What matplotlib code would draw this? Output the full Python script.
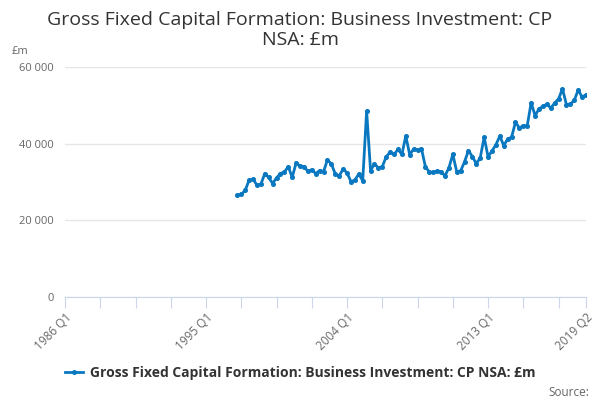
import matplotlib
matplotlib.use("Agg")
import matplotlib.pyplot as plt
from matplotlib.ticker import FuncFormatter

# --- Du lieu (doc tu hinh) ---
TITLE = "Gross Fixed Capital Formation: Business Investment: CP\nNSA: £m"
SERIES_NAME = "Gross Fixed Capital Formation: Business Investment: CP NSA: £m"

# nhan truc x: cac quy tu 1986 Q1 den 2019 Q2
quarters = [f"{y} Q{q}" for y in range(1986, 2020) for q in range(1, 5)]
quarters = quarters[:quarters.index("2019 Q2") + 1]

first_quarter = "1997 Q1"
values = [
    26500, 26800, 27800, 30500, 30700, 29200, 29400, 32200, 31200, 29600,
    31100, 32200, 32600, 34000, 31200, 35000, 34200, 34000, 32800, 33200,
    32200, 33000, 32700, 35800, 34700, 32100, 31600, 33400, 32400, 30100,
    30500, 32100, 30300, 48500, 33000, 34700, 33700, 34000, 36600, 37800,
    37200, 38500, 37200, 42000, 37100, 38600, 38400, 38700, 34000, 32600,
    32500, 32900, 32700, 31600, 33700, 37200, 32700, 32900, 35300, 38200,
    36600, 34800, 36300, 41700, 36600, 38100, 39700, 42000, 39500, 41200,
    41700, 45600, 44100, 44700, 44700, 50700, 47300, 49100, 49700, 50300,
    49300, 50600, 51700, 54300, 50200, 50300, 51300, 54000, 52200, 52700,
]

y_ticks = [0, 20000, 40000, 60000]
label_quarters = ["1986 Q1", "1995 Q1", "2004 Q1", "2013 Q1", "2019 Q2"]

LINE_COLOR = "#0a78c0"
GRID_COLOR = "#e6e6e6"
AXIS_COLOR = "#ccd6eb"
TEXT_COLOR = "#333333"
LABEL_COLOR = "#666666"

plt.rcParams["font.family"] = ["Open Sans", "DejaVu Sans"]

fig = plt.figure(figsize=(6, 4), dpi=100)
ax = fig.add_axes([65 / 600, 1 - 297 / 400, (586 - 65) / 600, (297 - 67) / 400])

start = quarters.index(first_quarter)
xs = list(range(start, start + len(values)))
ax.plot(xs, values, color=LINE_COLOR, lw=2, marker="o", ms=2.6,
        label=SERIES_NAME, zorder=3)

ax.set_xlim(0, len(quarters) - 1)
ax.set_ylim(0, 60000)

# truc y
ax.set_yticks(y_ticks)
ax.yaxis.set_major_formatter(FuncFormatter(lambda v, p: f"{int(v):,}".replace(",", " ")))
ax.tick_params(axis="y", length=0, labelsize=8, labelcolor=LABEL_COLOR, pad=8)
ax.grid(axis="y", color=GRID_COLOR, lw=1)
ax.set_axisbelow(True)

# truc x: vach moi 9 quy, nhan o mot so quy
tick_pos = list(range(0, len(quarters), 9)) + [len(quarters) - 1]
ax.set_xticks(tick_pos)
ax.set_xticklabels([quarters[i] if quarters[i] in label_quarters else "" for i in tick_pos],
                   rotation=45, ha="right", rotation_mode="anchor")
ax.tick_params(axis="x", length=8, color=AXIS_COLOR, labelsize=8.5,
               labelcolor=LABEL_COLOR, pad=2)

for s in ["top", "right", "left"]:
    ax.spines[s].set_visible(False)
ax.spines["bottom"].set_color(AXIS_COLOR)

fig.text(0.5, 1 - 30 / 400, TITLE, ha="center", va="center", fontsize=14,
         color=TEXT_COLOR, linespacing=1.15)
fig.text(12 / 600, 1 - 52 / 400, "£m", fontsize=8, color=LABEL_COLOR, va="center")

fig.legend(loc="center", bbox_to_anchor=(0.5, 1 - 373 / 400), frameon=False,
           handlelength=1.3, handletextpad=0.5, prop={"size": 10, "weight": "bold"},
           labelcolor=TEXT_COLOR)
fig.text(589 / 600, 1 - 392 / 400, "Source:", ha="right", va="center",
         fontsize=8.5, color=LABEL_COLOR)

fig.savefig("out.png", dpi=100)
